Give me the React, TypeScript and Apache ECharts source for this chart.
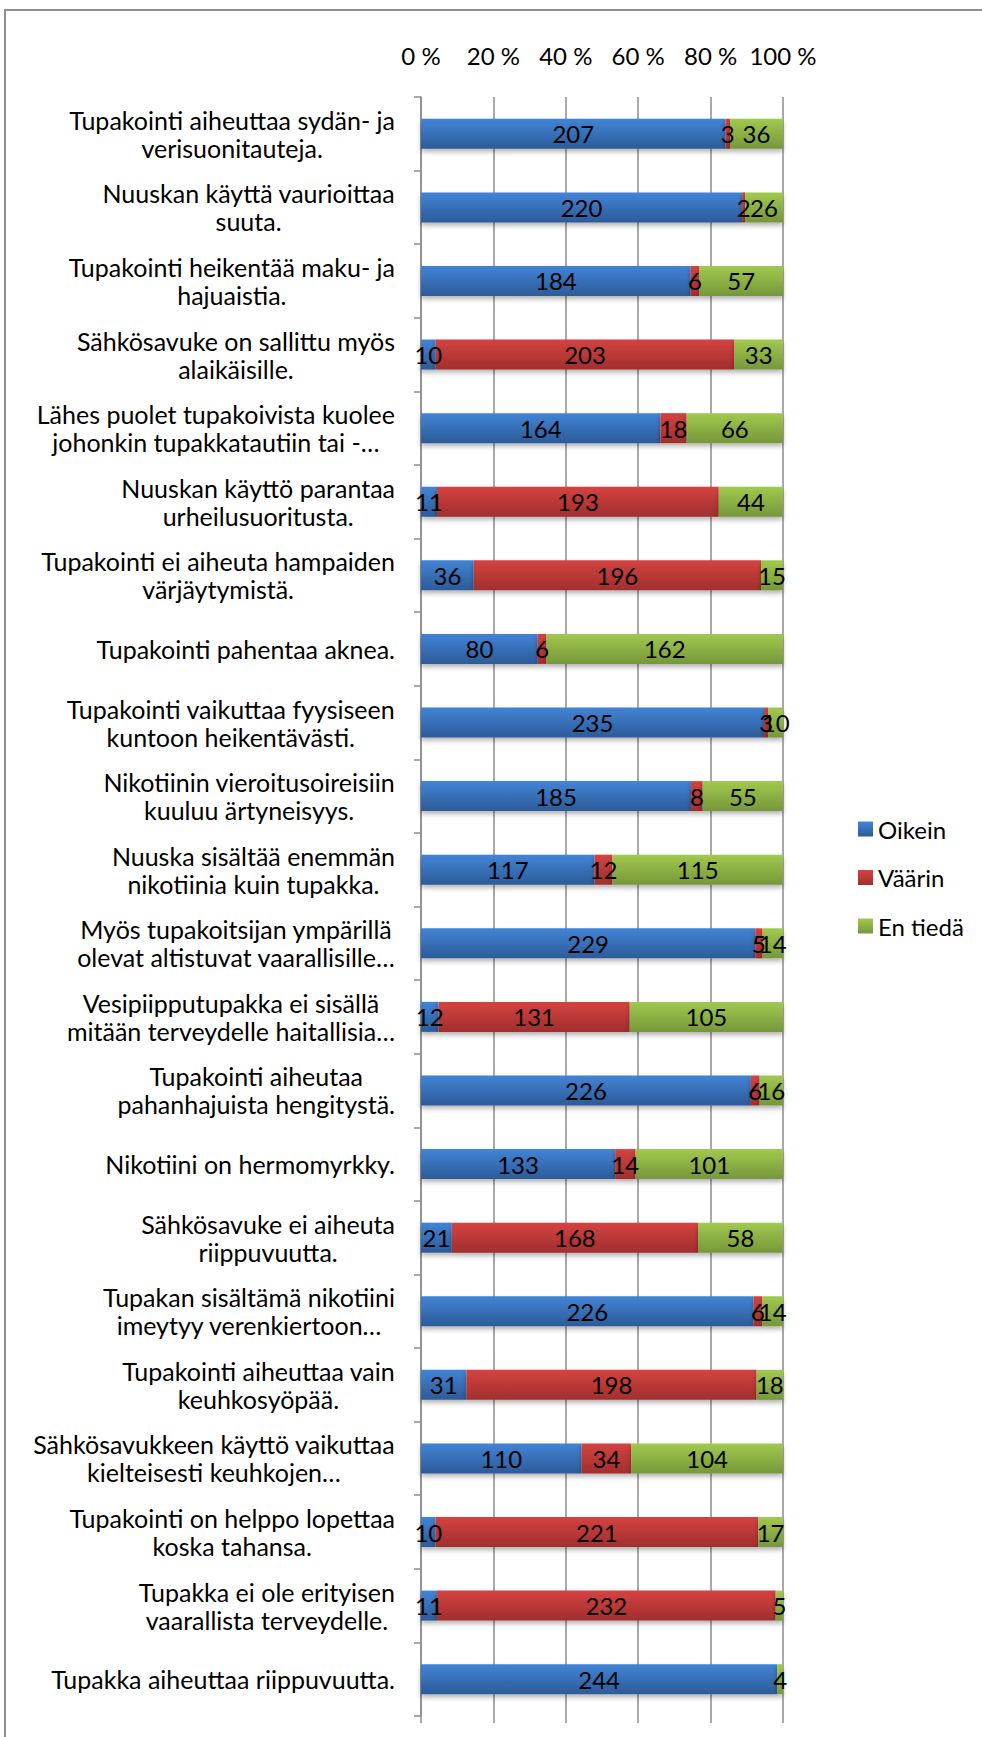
import React, { useEffect, useRef } from "react";
import * as echarts from "echarts";

const categories: string[] = [
  "Tupakointi aiheuttaa sydän- ja\nverisuonitauteja.",
  "Nuuskan käyttä vaurioittaa\nsuuta.",
  "Tupakointi heikentää maku- ja\nhajuaistia.",
  "Sähkösavuke on sallittu myös\nalaikäisille.",
  "Lähes puolet tupakoivista kuolee\njohonkin tupakkatautiin tai -…",
  "Nuuskan käyttö parantaa\nurheilusuoritusta.",
  "Tupakointi ei aiheuta hampaiden\nvärjäytymistä.",
  "Tupakointi pahentaa aknea.",
  "Tupakointi vaikuttaa fyysiseen\nkuntoon heikentävästi.",
  "Nikotiinin vieroitusoireisiin\nkuuluu ärtyneisyys.",
  "Nuuska sisältää enemmän\nnikotiinia kuin tupakka.",
  "Myös tupakoitsijan ympärillä\nolevat altistuvat vaarallisille…",
  "Vesipiipputupakka ei sisällä\nmitään terveydelle haitallisia…",
  "Tupakointi aiheutaa\npahanhajuista hengitystä.",
  "Nikotiini on hermomyrkky.",
  "Sähkösavuke ei aiheuta\nriippuvuutta.",
  "Tupakan sisältämä nikotiini\nimeytyy verenkiertoon…",
  "Tupakointi aiheuttaa vain\nkeuhkosyöpää.",
  "Sähkösavukkeen käyttö vaikuttaa\nkielteisesti keuhkojen…",
  "Tupakointi on helppo lopettaa\nkoska tahansa.",
  "Tupakka ei ole erityisen\nvaarallista terveydelle.",
  "Tupakka aiheuttaa riippuvuutta.",
];

const oikein: number[] = [207, 220, 184, 10, 164, 11, 36, 80, 235, 185, 117, 229, 12, 226, 133, 21, 226, 31, 110, 10, 11, 244];
const vaarin: number[] = [3, 2, 6, 203, 18, 193, 196, 6, 3, 8, 12, 5, 131, 6, 14, 168, 6, 198, 34, 221, 232, 0];
const enTieda: number[] = [36, 26, 57, 33, 66, 44, 15, 162, 10, 55, 115, 14, 105, 16, 101, 58, 14, 18, 104, 17, 5, 4];

const seriesNames: string[] = ["Oikein", "Väärin", "En tiedä"];
const tickLabels: string[] = ["0 %", "20 %", "40 %", "60 %", "80 %", "100 %"];

const FONT = "Lato";
const FS = 24;
const CAT_FS = 25;

function grad(top: string, bottom: string) {
  return new echarts.graphic.LinearGradient(0, 0, 0, 1, [
    { offset: 0, color: top },
    { offset: 1, color: bottom },
  ]);
}

export default function App() {
  const ref = useRef<HTMLDivElement>(null);
  useEffect(() => {
    if (!ref.current) return;
    const chart = echarts.init(ref.current, undefined, { renderer: "svg" });
    const raw = [oikein, vaarin, enTieda];
    const totals = categories.map((_, i) => oikein[i] + vaarin[i] + enTieda[i]);
    const colors = [
      grad("#4284d6", "#2c5b98"),
      grad("#d44341", "#a12e2d"),
      grad("#a2c94f", "#76973a"),
    ];
    const series = seriesNames.map((name, s) => ({
      name,
      type: "bar",
      stack: "total",
      barWidth: 30,
      xAxisIndex: 0,
      data: raw[s].map((v, i) => (v / totals[i]) * 100),
      itemStyle: {
        color: colors[s],
        shadowColor: "rgba(0,0,0,0.3)",
        shadowBlur: 5,
        shadowOffsetY: 3,
      },
      label: {
        show: true,
        position: "inside",
        color: "#000",
        fontFamily: FONT,
        fontSize: FS,
        formatter: (p: any) => {
          const v = raw[s][p.dataIndex];
          return v === 0 ? "" : String(v);
        },
      },
      emphasis: { disabled: true },
    }));

    chart.setOption({
      animation: false,
      backgroundColor: "#fff",
      textStyle: { fontFamily: FONT },
      graphic: [
        {
          type: "rect",
          shape: { x: 5, y: 10, width: 1100, height: 2000 },
          style: { fill: "none", stroke: "#8e8e8e", lineWidth: 2 },
          silent: true,
          z: -1,
        },
      ],
      legend: {
        orient: "vertical",
        left: 853,
        top: 811,
        itemWidth: 15,
        itemHeight: 15,
        itemGap: 22.5,
        itemTextGap: 6,
        icon: "rect",
        textStyle: { fontFamily: FONT, fontSize: FS, color: "#000", lineHeight: 26 },
        data: seriesNames,
      },
      grid: {
        left: 421,
        right: 199,
        top: 97,
        bottom: 21,
        containLabel: false,
        outerBoundsMode: "none",
      },
      xAxis: [
        {
          type: "value",
          position: "top",
          min: 0,
          max: 100,
          interval: 20,
          axisLine: { show: false },
          axisTick: { show: false },
          axisLabel: {
            margin: 30,
            fontFamily: FONT,
            fontSize: FS,
            color: "#000",
            formatter: (v: number) => tickLabels[Math.round(v / 20)],
          },
          splitLine: { show: true, lineStyle: { color: "#8c8c8c", width: 1.5 } },
        },
        {
          type: "value",
          position: "bottom",
          min: 0,
          max: 100,
          interval: 20,
          axisLine: { show: false },
          axisTick: { show: true, length: 7, lineStyle: { color: "#8c8c8c", width: 1.5 } },
          axisLabel: { show: false },
          splitLine: { show: false },
        },
      ],
      yAxis: {
        type: "category",
        inverse: true,
        data: categories,
        axisLine: { show: true, lineStyle: { color: "#8c8c8c", width: 1.5 } },
        axisTick: { show: true, length: 7, lineStyle: { color: "#8c8c8c", width: 1.5 } },
        axisLabel: {
          margin: 26,
          color: "#000",
          fontFamily: FONT,
          fontSize: CAT_FS,
          formatter: (v: string) =>
            v
              .split("\n")
              .map((l) => "{c|" + l + "}")
              .join("\n"),
          rich: {
            c: { align: "center", fontFamily: FONT, fontSize: CAT_FS, lineHeight: 28, color: "#000" },
          },
        },
      },
      series,
    });
    return () => chart.dispose();
  }, []);
  return (
    <div
      ref={ref}
      style={{ position: "absolute", left: 0, top: 0, width: 982, height: 1737 }}
    />
  );
}
